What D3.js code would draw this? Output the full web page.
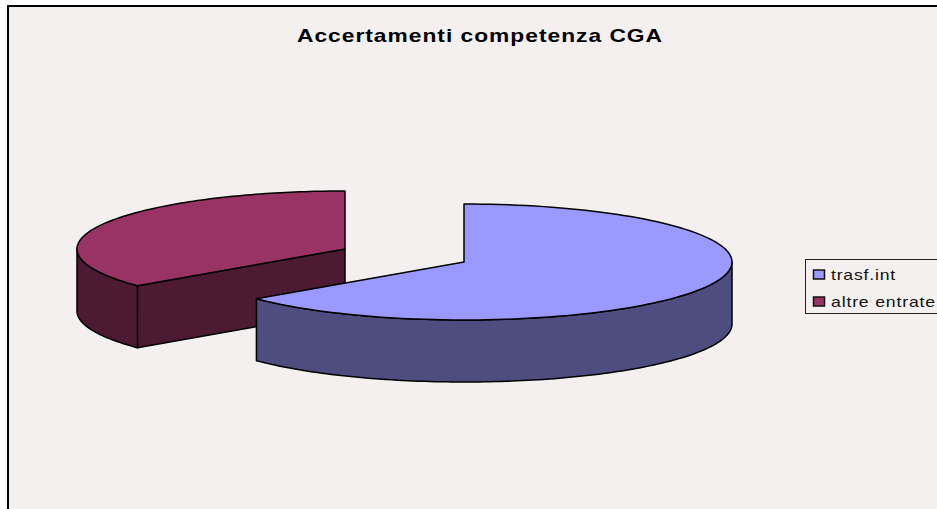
<!DOCTYPE html>
<html><head><meta charset="utf-8">
<style>html,body{margin:0;padding:0;background:#fff;overflow:hidden}svg{display:block}</style>
<script src="https://cdn.jsdelivr.net/npm/d3@7/dist/d3.min.js"></script>
</head><body><div id="c"></div>
<script>
const title = "Accertamenti competenza CGA";
const categories = ["trasf.int", "altre entrate"];
const values = [64.1, 35.9];
const topColors = ["#9999ff", "#993366"];
const sideColors = ["#4d4d80", "#4d1a33"];
const centers = [[464, 262], [345, 249]];

const W = 937, H = 509, RX = 268, RY = 58, DEPTH = 62;
const FONT = "Liberation Sans, Arial, sans-serif";
const svg = d3.select("#c").append("svg").attr("width", W).attr("height", H);
svg.append("rect").attr("x", 8).attr("y", 6).attr("width", W).attr("height", H)
  .attr("fill", "#f3f0ef").attr("stroke", "#000").attr("stroke-width", 2);

const pie = d3.pie().sort(null).startAngle(0).endAngle(2 * Math.PI);
const arcs = pie(values);
const line = d3.line();
const pt = (c, a, dy = 0) => [c[0] + RX * Math.sin(a), c[1] - RY * Math.cos(a) + dy];
const samples = (a0, a1) => d3.range(0, 121).map(i => a0 + (a1 - a0) * i / 120);
const shape = (pts, f) => svg.append("path").attr("d", line(pts) + "Z").attr("fill", f)
  .attr("stroke", "#000").attr("stroke-width", 1.5).attr("stroke-linejoin", "round");

// red slice is behind, blue slice in front
const drawSlice = i => {
  const c = centers[i], d = arcs[i], top = topColors[i], side = sideColors[i];
  const a0 = d.startAngle, a1 = d.endAngle;
  const w0 = Math.max(a0, Math.PI / 2), w1 = Math.min(a1, 3 * Math.PI / 2);
  if (i === 1) {
    const e = pt(c, a0);
    shape([c, e, [e[0], e[1] + DEPTH], [c[0], c[1] + DEPTH]], side);
  }
  if (w1 > w0) {
    const upper = samples(w0, w1).map(a => pt(c, a));
    const lower = samples(w0, w1).map(a => pt(c, a, DEPTH)).reverse();
    shape(upper.concat(lower), side);
  }
  shape([c].concat(samples(a0, a1).map(a => pt(c, a))), top);
};
drawSlice(1);
drawSlice(0);

svg.append("text").attr("x", 297).attr("y", 41.5)
  .attr("font-family", FONT).attr("font-weight", "bold")
  .attr("font-size", 18.5).attr("letter-spacing", 0.8)
  .attr("textLength", 366).attr("lengthAdjust", "spacingAndGlyphs")
  .attr("fill", "#000").text(title);

const lg = svg.append("g");
lg.append("rect").attr("x", 805.5).attr("y", 259.5).attr("width", 160).attr("height", 54)
  .attr("fill", "#f3f0ef").attr("stroke", "#222").attr("stroke-width", 1);
const ly = d3.scalePoint().domain(categories).range([274.5, 301.5]);
const labelWidths = [65, 105];
categories.forEach((n, i) => {
  lg.append("rect").attr("x", 813.5).attr("y", ly(n) - 4.5).attr("width", 11).attr("height", 9)
    .attr("fill", topColors[i]).attr("stroke", "#111").attr("stroke-width", 1.5);
  lg.append("text").attr("x", 831).attr("y", ly(n) + 5)
    .attr("font-family", FONT).attr("font-size", 15).attr("letter-spacing", 0.7)
    .attr("textLength", labelWidths[i]).attr("lengthAdjust", "spacingAndGlyphs")
    .attr("fill", "#111").text(n);
});
</script></body></html>
